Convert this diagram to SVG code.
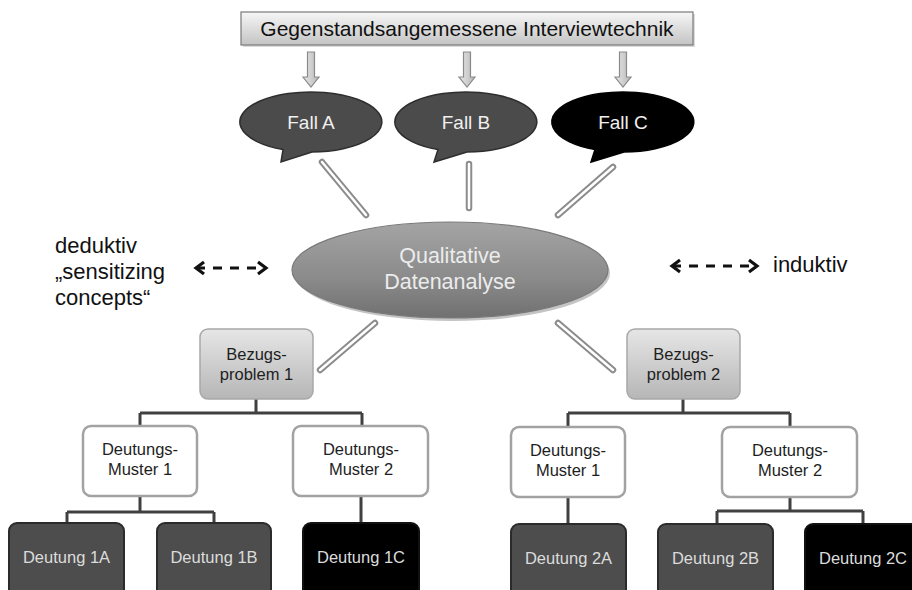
<svg xmlns="http://www.w3.org/2000/svg" width="912" height="590" viewBox="0 0 912 590">
<defs>
<linearGradient id="gTitle" x1="0" y1="0" x2="0" y2="1"><stop offset="0" stop-color="#f6f6f6"/><stop offset="1" stop-color="#c4c4c4"/></linearGradient>
<linearGradient id="gArrow" x1="0" y1="0" x2="1" y2="0"><stop offset="0" stop-color="#e8e8e8"/><stop offset="1" stop-color="#b8b8b8"/></linearGradient>
<linearGradient id="gEll" x1="0" y1="0" x2="0" y2="1"><stop offset="0" stop-color="#a4a4a4"/><stop offset="0.6" stop-color="#8a8a8a"/><stop offset="1" stop-color="#707070"/></linearGradient>
<linearGradient id="gBez" x1="0" y1="0" x2="0" y2="1"><stop offset="0" stop-color="#e6e6e6"/><stop offset="1" stop-color="#b6b6b6"/></linearGradient>
<marker id="chev" viewBox="-2 -8 14 16" markerWidth="14" markerHeight="16" refX="9" refY="0" orient="auto-start-reverse" markerUnits="userSpaceOnUse">
<path d="M1,-6 L9,0 L1,6" fill="none" stroke="#111" stroke-width="3.2" stroke-linejoin="miter"/>
</marker>
</defs>
<style>
text{font-family:"Liberation Sans",Arial,sans-serif;text-anchor:middle}
.hol{stroke:#8c8c8c;stroke-width:6.5;stroke-linecap:round;fill:none}
.holi{stroke:#ffffff;stroke-width:2.5;stroke-linecap:round;fill:none}
.tree{stroke:#404040;stroke-width:3;fill:none}
.bub{fill:#4b4b4b;stroke:#2e2e2e;stroke-width:1.5}
.bubk{fill:#000;stroke:#000;stroke-width:1.5}
.btxt{fill:#f0f0f0;font-size:19px}
.bez{fill:url(#gBez);stroke:#a8a8a8;stroke-width:1.5}
.dm{fill:#fff;stroke:#a2a2a2;stroke-width:2.5}
.deu{fill:#4d4d4d;stroke:#2b2b2b;stroke-width:2}
.deuk{fill:#000;stroke:#111;stroke-width:2}
.t16{font-size:16.5px;fill:#1e1e1e}
.dtxt{font-size:16.5px;fill:#dcdcdc}
.side{font-size:22px;fill:#111;text-anchor:start}
.arr{fill:url(#gArrow);stroke:#8a8a8a;stroke-width:1.2}
.dash{stroke:#111;stroke-width:3.2;stroke-dasharray:9 8;fill:none}
</style>

<g id="connectors">
<path class="arr" d="M307.5,52 H314.5 V77 H319 L311,87 L303,77 H307.5 Z"/>
<path class="arr" d="M463.5,52 H470.5 V77 H475 L467,87 L459,77 H463.5 Z"/>
<path class="arr" d="M619.5,52 H626.5 V77 H631 L623,87 L615,77 H619.5 Z"/>
<line class="hol" x1="322" y1="162" x2="366" y2="215"/><line class="holi" x1="322" y1="162" x2="366" y2="215"/>
<line class="hol" x1="469" y1="164" x2="469" y2="208"/><line class="holi" x1="469" y1="164" x2="469" y2="208"/>
<line class="hol" x1="613" y1="167" x2="558" y2="215"/><line class="holi" x1="613" y1="167" x2="558" y2="215"/>
<line class="hol" x1="375" y1="323" x2="320" y2="370"/><line class="holi" x1="375" y1="323" x2="320" y2="370"/>
<line class="hol" x1="558" y1="323" x2="613" y2="370"/><line class="holi" x1="558" y1="323" x2="613" y2="370"/>
<line class="dash" x1="196" y1="268" x2="266" y2="268" marker-start="url(#chev)" marker-end="url(#chev)"/>
<line class="dash" x1="672" y1="266" x2="757" y2="266" marker-start="url(#chev)" marker-end="url(#chev)"/>
<path class="tree" d="M256,399 V413 M140,413 H362 M140,413 V426 M362,413 V426"/>
<path class="tree" d="M140,496 V512 M67,512 H214 M67,512 V523 M214,512 V523 M361,496 V523"/>
<path class="tree" d="M683,399 V413 M568,413 H790 M568,413 V427 M790,413 V427"/>
<path class="tree" d="M568,497 V524 M790,497 V511 M717,511 H863 M717,511 V524 M863,511 V524"/>
</g>

<g id="title">
<rect x="241" y="12" width="452" height="33" fill="#999" opacity="0.35" transform="translate(2,2)"/>
<rect x="241" y="12" width="452" height="33" fill="url(#gTitle)" stroke="#7a7a7a" stroke-width="1.2"/>
<text x="467" y="36" style="font-size:21px;fill:#111">Gegenstandsangemessene Interviewtechnik</text>
</g>

<g id="fallA">
<path class="bub" d="M312,152 A71,30 0 1 0 283,149.6 L281,162 Z"/>
<text class="btxt" x="311" y="129">Fall A</text>
</g>
<g id="fallB">
<path class="bub" d="M467,152 A71,30 0 1 0 438,149.6 L434,162 Z"/>
<text class="btxt" x="466" y="129">Fall B</text>
</g>
<g id="fallC">
<path class="bubk" d="M624,152 A71,30 0 1 0 595,149.6 L591,162 Z"/>
<text class="btxt" x="623" y="129">Fall C</text>
</g>

<g id="analyse">
<ellipse cx="452" cy="273" rx="158" ry="48" fill="#555" opacity="0.35"/>
<ellipse cx="450" cy="270" rx="158" ry="48" fill="url(#gEll)" stroke="#7a7a7a" stroke-width="1.2"/>
<text x="450" y="263" style="font-size:21.5px;fill:#ececec">Qualitative</text>
<text x="450" y="289" style="font-size:21.5px;fill:#ececec">Datenanalyse</text>
</g>

<g id="deduktiv">
<text class="side" x="55" y="253">deduktiv</text>
<text class="side" x="55" y="279">„sensitizing</text>
<text class="side" x="55" y="305">concepts“</text>
</g>
<g id="induktiv">
<text class="side" x="773" y="272">induktiv</text>
</g>

<g id="bezug1">
<rect class="bez" x="200" y="329" width="113" height="70" rx="8"/>
<text class="t16" x="256.5" y="360">Bezugs-</text>
<text class="t16" x="256.5" y="380">problem 1</text>
</g>
<g id="bezug2">
<rect class="bez" x="627" y="329" width="113" height="70" rx="8"/>
<text class="t16" x="683.5" y="360">Bezugs-</text>
<text class="t16" x="683.5" y="380">problem 2</text>
</g>

<g id="dm1L">
<rect class="dm" x="83" y="426" width="114" height="70" rx="8"/>
<text class="t16" x="140" y="455">Deutungs-</text>
<text class="t16" x="140" y="475">Muster 1</text>
</g>
<g id="dm2L">
<rect class="dm" x="293" y="426" width="135" height="70" rx="8"/>
<text class="t16" x="361" y="455">Deutungs-</text>
<text class="t16" x="361" y="475">Muster 2</text>
</g>
<g id="dm1R">
<rect class="dm" x="511" y="427" width="114" height="70" rx="8"/>
<text class="t16" x="568" y="456">Deutungs-</text>
<text class="t16" x="568" y="476">Muster 1</text>
</g>
<g id="dm2R">
<rect class="dm" x="722" y="427" width="135" height="70" rx="8"/>
<text class="t16" x="790" y="456">Deutungs-</text>
<text class="t16" x="790" y="476">Muster 2</text>
</g>

<g id="d1A"><rect class="deu" x="9" y="523" width="115" height="80" rx="8"/><text class="dtxt" x="66.5" y="563">Deutung 1A</text></g>
<g id="d1B"><rect class="deu" x="157" y="523" width="114" height="80" rx="8"/><text class="dtxt" x="214" y="563">Deutung 1B</text></g>
<g id="d1C"><rect class="deuk" x="303" y="523" width="116" height="80" rx="8"/><text class="dtxt" x="361" y="563">Deutung 1C</text></g>
<g id="d2A"><rect class="deu" x="511" y="524" width="115" height="80" rx="8"/><text class="dtxt" x="568.5" y="564">Deutung 2A</text></g>
<g id="d2B"><rect class="deu" x="658" y="524" width="115" height="80" rx="8"/><text class="dtxt" x="715.5" y="564">Deutung 2B</text></g>
<g id="d2C"><rect class="deuk" x="805" y="524" width="116" height="80" rx="8"/><text class="dtxt" x="863" y="564">Deutung 2C</text></g>
</svg>
